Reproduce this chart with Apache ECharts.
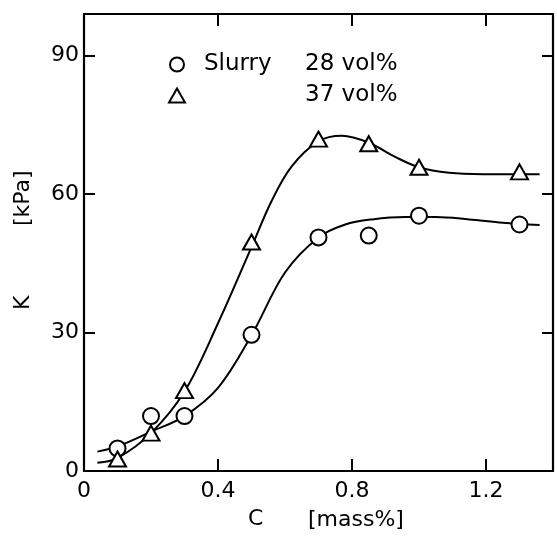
<!DOCTYPE html>
<html>
<head>
<meta charset="utf-8">
<script src="https://cdn.jsdelivr.net/npm/echarts@6/dist/echarts.min.js"></script>
<style>
html,body{margin:0;padding:0;background:#fff;}
#chart{width:557px;height:542px;}
</style>
</head>
<body>
<div id="chart"></div>
<script>
// Tick labels
const xTicks = [0, 0.4, 0.8, 1.2];
const yTicks = [0, 30, 60, 90];
const innerXTicks = [0.4, 0.8, 1.2];
const innerYTicks = [30, 60, 90];

// Measured points: C [mass%] vs K [kPa]
const pointC = [0.1, 0.2, 0.3, 0.5, 0.7, 0.85, 1.0, 1.3];
const vol28K = [4.9, 11.9, 11.9, 29.5, 50.6, 51.0, 55.3, 53.4];
const vol37K = [2.6, 8.2, 17.4, 49.6, 71.9, 70.9, 65.8, 64.8];

// Hand-drawn fitted curves
const curve28C = [0.04, 0.1, 0.2, 0.3, 0.4, 0.5, 0.6, 0.7, 0.78, 0.86, 0.96, 1.05, 1.15, 1.25, 1.36];
const curve28K = [4.2, 5.3, 8.5, 11.9, 18.0, 29.4, 43.0, 50.6, 53.4, 54.5, 55.0, 55.0, 54.5, 53.8, 53.3];
const curve37C = [0.04, 0.1, 0.2, 0.3, 0.4, 0.5, 0.56, 0.62, 0.7, 0.77, 0.85, 0.93, 1.0, 1.09, 1.19, 1.36];
const curve37K = [1.8, 2.8, 8.2, 17.2, 32.0, 48.5, 58.5, 66.0, 71.4, 72.6, 71.1, 68.0, 65.8, 64.6, 64.3, 64.3];

// Axis titles
const xTitle = ['C', '[mass%]'];
const yTitle = ['K', '[kPa]'];

const zip = (a, b) => a.map((v, i) => [v, b[i]]);

const FONT = 'DejaVu Sans';
const FS = 22;
const LFS = 23;
const chart = echarts.init(document.getElementById('chart'), null, {renderer: 'canvas'});

const frameLine = {show: true, onZero: false, lineStyle: {color: '#000', width: 2.2}};
const tickStyle = {color: '#000', width: 2};

chart.setOption({
  animation: false,
  backgroundColor: '#fff',
  grid: {left: 84, right: 4, top: 14, bottom: 71, containLabel: false},
  legend: {
    orient: 'vertical',
    left: 163,
    top: 48,
    itemWidth: 16,
    itemHeight: 14,
    itemGap: 8,
    data: ['Slurry 28 vol%', '37 vol%'],
    formatter: function (name) {
      if (name === 'Slurry 28 vol%') return '{g|}{a|Slurry}{b|28 vol%}';
      return '{g|}{a|}{b|37 vol%}';
    },
    textStyle: {
      fontFamily: FONT, fontSize: LFS, color: '#000',
      rich: {
        g: {width: 14, fontFamily: FONT, fontSize: LFS, lineHeight: 26},
        a: {width: 101, fontFamily: FONT, fontSize: LFS, lineHeight: 26, color: '#000'},
        b: {fontFamily: FONT, fontSize: LFS, lineHeight: 26, color: '#000'}
      }
    }
  },
  graphic: [
    {type: 'text', left: 248, top: 508, silent: true,
      style: {text: xTitle[0], font: FS + 'px "' + FONT + '"', fill: '#000'}},
    {type: 'text', left: 308, top: 509, silent: true,
      style: {text: xTitle[1], font: FS + 'px "' + FONT + '"', fill: '#000'}},
    {type: 'text', x: 12, y: 310, rotation: Math.PI / 2, silent: true,
      style: {text: yTitle[0], font: FS + 'px "' + FONT + '"', fill: '#000'}},
    {type: 'text', x: 12, y: 226, rotation: Math.PI / 2, silent: true,
      style: {text: yTitle[1], font: FS + 'px "' + FONT + '"', fill: '#000'}}
  ],
  xAxis: [{
    type: 'value', min: 0, max: 1.4, interval: 0.4, position: 'bottom',
    axisLine: frameLine,
    axisTick: {show: true, inside: true, length: 12, lineStyle: tickStyle, customValues: innerXTicks},
    axisLabel: {show: true, margin: 9, fontFamily: FONT, fontSize: FS, color: '#000', customValues: xTicks,
      formatter: v => (v === 0 ? '0' : v.toFixed(1))},
    splitLine: {show: false}
  }, {
    type: 'value', min: 0, max: 1.4, interval: 0.4, position: 'top',
    axisLine: frameLine,
    axisTick: {show: true, inside: true, length: 12, lineStyle: tickStyle, customValues: innerXTicks},
    axisLabel: {show: false},
    splitLine: {show: false}
  }],
  yAxis: [{
    type: 'value', min: 0, max: 99, interval: 30, position: 'left',
    axisLine: frameLine,
    axisTick: {show: true, inside: true, length: 11, lineStyle: tickStyle, customValues: innerYTicks},
    axisLabel: {show: true, margin: 5, fontFamily: FONT, fontSize: FS, color: '#000', customValues: yTicks},
    splitLine: {show: false}
  }, {
    type: 'value', min: 0, max: 99, interval: 30, position: 'right',
    axisLine: frameLine,
    axisTick: {show: true, inside: true, length: 11, lineStyle: tickStyle, customValues: innerYTicks},
    axisLabel: {show: false},
    splitLine: {show: false}
  }],
  series: [
    {
      name: 'curve28', type: 'line', data: zip(curve28C, curve28K),
      smooth: 0.35, showSymbol: false, silent: true, z: 2,
      lineStyle: {color: '#000', width: 2}
    },
    {
      name: 'curve37', type: 'line', data: zip(curve37C, curve37K),
      smooth: 0.35, showSymbol: false, silent: true, z: 2,
      lineStyle: {color: '#000', width: 2}
    },
    {
      name: 'Slurry 28 vol%', type: 'scatter', data: zip(pointC, vol28K),
      symbol: 'circle', symbolSize: 16, z: 5,
      itemStyle: {color: '#fff', borderColor: '#000', borderWidth: 2, opacity: 1}
    },
    {
      name: '37 vol%', type: 'scatter', data: zip(pointC, vol37K),
      symbol: 'triangle', symbolSize: [17, 15], z: 5,
      itemStyle: {color: '#fff', borderColor: '#000', borderWidth: 2, opacity: 1}
    }
  ]
});
</script>
</body>
</html>
